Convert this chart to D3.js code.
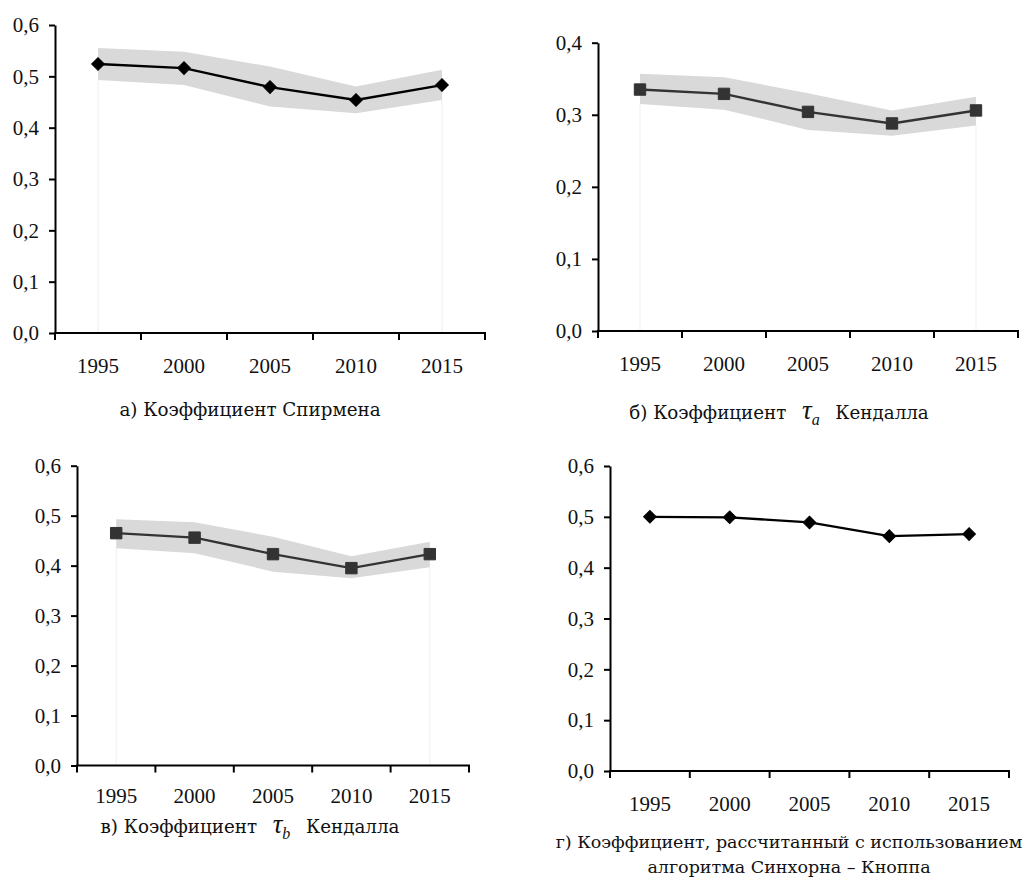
<!DOCTYPE html>
<html>
<head>
<meta charset="utf-8">
<script src="https://cdn.jsdelivr.net/npm/d3@7"></script>
<style>
  body { margin: 0; background: #fff; }
  svg { display: block; }
</style>
</head>
<body>
<svg id="chart" width="1023" height="882"></svg>
<script>
// Rank correlation coefficients, 1995–2015, four panels

const years = ["1995", "2000", "2005", "2010", "2015"];

// а) Spearman
const spearman     = [0.524, 0.516, 0.479, 0.454, 0.483];
const spearmanLow  = [0.493, 0.483, 0.441, 0.428, 0.454];
const spearmanHigh = [0.555, 0.548, 0.519, 0.480, 0.513];

// б) Kendall tau-a
const tauA     = [0.335, 0.329, 0.304, 0.288, 0.306];
const tauALow  = [0.315, 0.307, 0.279, 0.271, 0.285];
const tauAHigh = [0.357, 0.352, 0.330, 0.306, 0.325];

// в) Kendall tau-b
const tauB     = [0.465, 0.456, 0.423, 0.395, 0.423];
const tauBLow  = [0.435, 0.425, 0.388, 0.375, 0.397];
const tauBHigh = [0.493, 0.487, 0.458, 0.419, 0.448];

// г) Sinkhorn–Knopp
const sinkhorn = [0.500, 0.499, 0.489, 0.462, 0.466];

const ticks06 = [0, 0.1, 0.2, 0.3, 0.4, 0.5, 0.6];
const ticks04 = [0, 0.1, 0.2, 0.3, 0.4];

const NUM_FONT = "'Liberation Serif', 'Times New Roman', serif";
const CAP_FONT = "'DejaVu Serif', serif";
const fmt = d => d3.format(".1f")(d).replace(".", ",");

const svg = d3.select("#chart");

function drawPanel(p) {
    const x = d3.scaleBand().domain(years).range([p.left, p.right]);
    const y = d3.scaleLinear().domain([0, p.yMax]).range([p.bottom, p.top]);
    const cx = d => x(d) + x.bandwidth() / 2;
    const g = svg.append("g");

    if (p.low) {
        // faint edges of the lower (white) area
        [0, years.length - 1].forEach(i => {
            g.append("line")
                .attr("x1", cx(years[i])).attr("x2", cx(years[i]))
                .attr("y1", y(p.low[i])).attr("y2", y(0))
                .attr("stroke", "#efefef").attr("stroke-width", 1);
        });
        const band = d3.area()
            .x((d, i) => cx(years[i]))
            .y0((d, i) => y(p.low[i]))
            .y1((d, i) => y(p.high[i]));
        g.append("path").datum(p.values)
            .attr("d", band)
            .attr("fill", "#d9d9d9");
    }

    const line = d3.line().x((d, i) => cx(years[i])).y(d => y(d));
    g.append("path").datum(p.values)
        .attr("d", line)
        .attr("fill", "none")
        .attr("stroke", p.color)
        .attr("stroke-width", 2.4);

    g.append("g").selectAll("path")
        .data(p.values)
        .join("path")
        .attr("transform", (d, i) => `translate(${cx(years[i])},${y(d)})` + (p.marker === "diamond" ? " rotate(45)" : ""))
        .attr("d", d3.symbol(d3.symbolSquare, p.marker === "diamond" ? 80 : 130)())
        .attr("fill", p.color)
        .attr("stroke", p.color)
        .attr("stroke-width", 1);

    // y axis
    const ya = g.append("g")
        .attr("transform", `translate(${p.left},0)`)
        .call(d3.axisLeft(y).tickValues(p.yTicks).tickFormat(fmt)
            .tickSize(6).tickSizeOuter(0).tickPadding(10));
    ya.selectAll("path, line").attr("stroke", "#000").attr("stroke-width", 2);
    ya.selectAll("text")
        .attr("font-family", NUM_FONT).attr("font-size", 21).attr("fill", "#111");

    // x axis: labels centred in bands, ticks on band edges
    const xa = g.append("g")
        .attr("transform", `translate(0,${y(0)})`)
        .call(d3.axisBottom(x).tickSize(0).tickPadding(p.yearPad || 25));
    xa.select(".domain").remove();
    xa.selectAll("text")
        .attr("font-family", NUM_FONT).attr("font-size", 21).attr("fill", "#111");

    g.append("line")
        .attr("x1", p.left - 1).attr("x2", p.right + 1)
        .attr("y1", y(0)).attr("y2", y(0))
        .attr("stroke", "#000").attr("stroke-width", 2);
    const edges = [p.left].concat(years.map(d => x(d) + x.bandwidth()));
    g.append("g").selectAll("line")
        .data(edges)
        .join("line")
        .attr("x1", d => d).attr("x2", d => d)
        .attr("y1", y(0)).attr("y2", y(0) + 7)
        .attr("stroke", "#000").attr("stroke-width", 2);

    // caption
    p.caption.forEach((ln, k) => {
        const t = svg.append("text")
            .attr("x", p.capX).attr("y", p.capY + k * 25)
            .attr("text-anchor", "middle")
            .attr("font-family", CAP_FONT)
            .attr("font-size", p.capSize || 18.3)
            .attr("fill", "#111");
        if (typeof ln === "string") {
            t.text(ln);
        } else {
            t.append("tspan").text(ln.pre);
            t.append("tspan").attr("font-style", "italic").attr("font-size", 27)
                .attr("font-family", NUM_FONT).attr("dx", 4).text("τ");
            t.append("tspan").attr("font-style", "italic").attr("font-size", 16)
                .attr("font-family", NUM_FONT).attr("dy", 6).text(ln.sub);
            t.append("tspan").attr("dy", -6).attr("dx", 4).text("\u00a0\u00a0" + ln.post);
        }
    });
}

drawPanel({
    left: 55, right: 485, top: 25, bottom: 333, yMax: 0.6, yTicks: ticks06,
    values: spearman, low: spearmanLow, high: spearmanHigh,
    color: "#000", marker: "diamond",
    capX: 250, capY: 416, caption: ["а) Коэффициент Спирмена"]
});

drawPanel({
    left: 598, right: 1018, top: 42.7, bottom: 331, yMax: 0.4, yTicks: ticks04,
    values: tauA, low: tauALow, high: tauAHigh,
    color: "#333", marker: "square",
    capX: 779, capY: 419, caption: [{ pre: "б) Коэффициент\u00a0\u00a0", sub: "a", post: "Кендалла" }]
});

drawPanel({
    left: 77, right: 469, top: 465.7, bottom: 765.5, yMax: 0.6, yTicks: ticks06,
    values: tauB, low: tauBLow, high: tauBHigh,
    color: "#333", marker: "square", yearPad: 23,
    capX: 250, capY: 833, caption: [{ pre: "в) Коэффициент\u00a0\u00a0", sub: "b", post: "Кендалла" }]
});

drawPanel({
    left: 610, right: 1009, top: 466, bottom: 771, yMax: 0.6, yTicks: ticks06,
    values: sinkhorn, color: "#000", marker: "diamond",
    capX: 789, capY: 848, capSize: 17.5,
    caption: ["г) Коэффициент, рассчитанный с использованием", "алгоритма Синхорна – Кноппа"]
});
</script>
</body>
</html>
